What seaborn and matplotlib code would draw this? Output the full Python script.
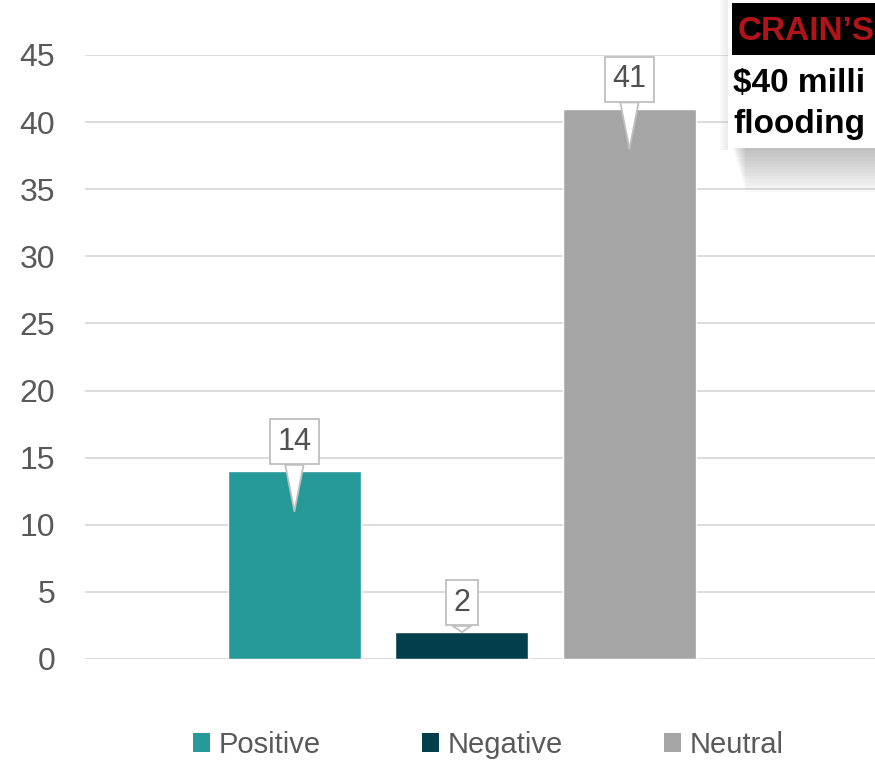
import matplotlib
matplotlib.use("Agg")
from matplotlib import pyplot as plt
from matplotlib.patches import Rectangle, Patch
import pandas as pd
import seaborn as sns

# ==============================================================================
# DATA
# ==============================================================================
categories = ["Positive", "Negative", "Neutral"]
counts = [14, 2, 41]
colors = ["#269999", "#023f4d", "#a5a5a5"]
y_ticks = [0, 5, 10, 15, 20, 25, 30, 35, 40, 45]

df = pd.DataFrame({"sentiment": categories, "count": counts})

# ==============================================================================
# PLOT
# ==============================================================================
sns.set_theme(style="white")
plt.rcParams["font.family"] = ["Liberation Sans", "DejaVu Sans"]

W, H = 875, 764
fig = plt.figure(figsize=(W / 100, H / 100), dpi=100)
ax = fig.add_axes([85 / W, 105 / H, 1 - 85 / W, 604 / H])

sns.barplot(data=df, x="sentiment", y="count", hue="sentiment",
            palette=colors, width=0.794, saturation=1, legend=False, ax=ax)

ax.set_ylim(0, 45)
ax.set_xlim(-1.25, 3.466)
ax.set_yticks(y_ticks)
ax.yaxis.grid(True, color="#d9d9d9", linewidth=1.3)
ax.set_axisbelow(True)
ax.tick_params(axis="y", length=0, pad=21.5, labelsize=23, labelcolor="#595959")
ax.set_xticks([])
ax.set_xlabel("")
ax.set_ylabel("")
for s in ax.spines.values():
    s.set_visible(False)

# callout data labels
for i, v in enumerate(counts):
    tip = v - 3 if v > 5 else v
    ax.annotate(str(v), xy=(i, tip), xytext=(i, v + 2.2),
                ha="center", va="center", fontsize=22, color="#505050",
                bbox=dict(boxstyle="square,pad=0.25", fc="white", ec="#bfbfbf", lw=1.3),
                arrowprops=dict(arrowstyle="wedge,tail_width=0.6", fc="white",
                                ec="#bfbfbf", lw=1.3, shrinkA=0, shrinkB=0),
                annotation_clip=False, zorder=5)

# legend
handles = [Patch(fc=c, ec="none") for c in colors]
fig.legend(handles, categories, loc="center", bbox_to_anchor=(0.558, 1 - 745 / H),
           ncol=3, frameon=False, fontsize=21, handlelength=0.6, handleheight=0.6,
           handletextpad=0.3, columnspacing=3.45, labelcolor="#595959")

# overlaid news clipping in the top-right corner
def fig_rect(x0, y0, x1, y1, **kw):
    fig.patches.append(Rectangle((x0 / W, 1 - y1 / H), (x1 - x0) / W, (y1 - y0) / H,
                                 transform=fig.transFigure, ec="none", **kw))

# soft drop shadow below and left of the clipping
for k in range(14):
    fig_rect(733 + k, 148, W + 5, 148 + 44 * (k + 1) / 14,
             fc="#707070", alpha=0.035, zorder=8)
for k in range(4):
    fig_rect(720 + k * 2, 0, 728, 150, fc="#909090", alpha=0.04, zorder=8)
fig_rect(728, 0, W + 5, 148, fc="white", zorder=9)
fig_rect(732, 3, W + 5, 55, fc="black", zorder=10)

fig.text(738 / W, 1 - 40 / H, "CRAIN’S", color="#b01419", fontsize=24,
         fontweight="bold", va="baseline", ha="left", zorder=11)
fig.text(733 / W, 1 - 92 / H, "$40 milli", color="black", fontsize=24,
         fontweight="bold", va="baseline", ha="left", zorder=11, parse_math=False)
fig.text(733 / W, 1 - 133 / H, "flooding", color="black", fontsize=24,
         fontweight="bold", va="baseline", ha="left", zorder=11, parse_math=False)

fig.savefig("out.png", dpi=100)
